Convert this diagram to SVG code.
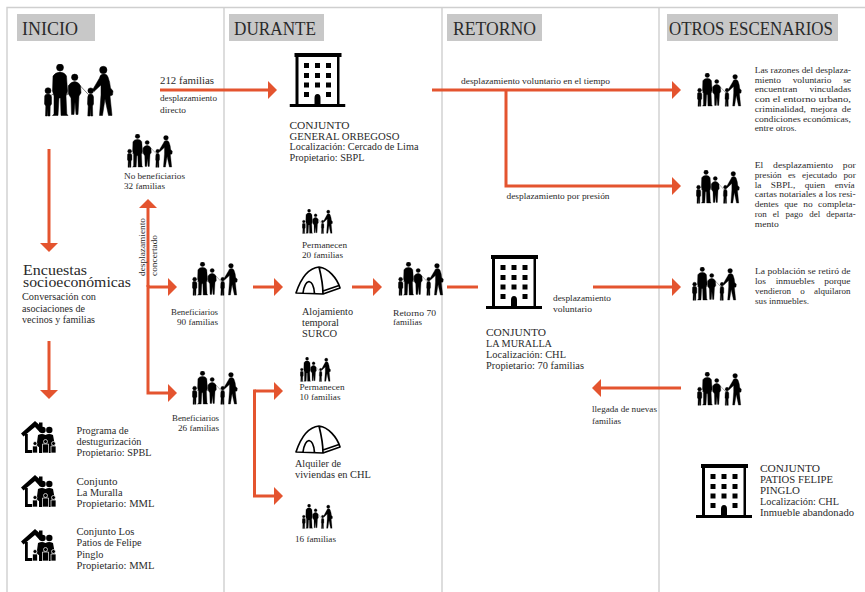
<svg xmlns="http://www.w3.org/2000/svg" width="865" height="592" viewBox="0 0 865 592">
<style>
text{font-family:"Liberation Serif","Times New Roman",serif;fill:#2a2a2a}
.h{font-size:19px}
.l{font-size:11.2px}
.m{font-size:10.4px}
.s{font-size:9.2px}
.x{font-size:9px}
.e{font-size:15px}
.panel{fill:none;stroke:#cfcfcf;stroke-width:1.4}
.hd{fill:#c8c8c8}
.c{fill:none;stroke:#e4542f;stroke-width:3;stroke-linejoin:miter}
.a{marker-end:url(#head)}
.fam path,.fam circle{stroke:#000;stroke-width:.5;stroke-linejoin:round}
</style>
<defs>
<marker id="head" markerUnits="userSpaceOnUse" viewBox="0 0 9 18" refX="0" refY="9" markerWidth="9" markerHeight="18" orient="auto"><path d="M0,0L9,9L0,18Z" fill="#e4542f"/></marker>
<symbol id="family" viewBox="0 0 70 53" preserveAspectRatio="none">
<g class="fam">
<circle cx="16" cy="3.500" r="3.500"/><circle cx="30.700" cy="13.300" r="3.200"/><circle cx="4" cy="26.700" r="3"/><circle cx="46.700" cy="26.700" r="2.800"/><circle cx="59.300" cy="6" r="3.700"/>
<path d="M9,12Q11,8.500 16,8Q21,8.500 22.500,12L23.500,27L22,32L22.800,50L24,51.500L17,51.500L16.500,34L15,34L14,51.500L8.500,51.500L10,50L10,32L8.500,27Z"/>
<path d="M24.500,22Q26,18 30.700,17.500Q35,18 36.500,22L37,29L35,32L34,50.500L32,50.500L31,38L30,50.500L27.500,50.500L27,34L24.500,30Z"/>
<path d="M.7,32Q1,30 4,30Q7,30 7.500,33L7.500,40L6.200,42L6,52L3.800,52L3.500,44L3.200,52L1.500,52L1.800,42L.5,40Z"/>
<path d="M43.800,33Q44,30 46.700,30Q49,30 49.500,33L49.500,40L48.500,42L48.700,52L46.700,52L46.300,44L46,52L43.800,52L44.200,42L43.500,40Z"/>
<path d="M55.500,14Q56,10 60,10Q63,10 64,13Q66,18 66.500,24L69,27L68.500,31L66,32L68,51.500L64.500,51.500L61,35L58.500,51.500L55.500,51.500L57,31L57,21L50,27.500L48.500,26Z"/>
<path d="M35.500,21L45.300,31.500M24.500,21L23.500,31M7,31.500L10,29.500" fill="none" stroke-width="1"/>
</g>
</symbol>
<symbol id="building" viewBox="0 0 56 54" preserveAspectRatio="none">
<path d="M5,0H52V4H50V51H56V54H0V51H6V4H5ZM9,4V51H25V45Q25,41 28,41Q31,41 31,45V51H47.500V4Z" fill-rule="evenodd"/>
<path d="M14.500,10h5v5h-5zM25.500,10h5v5h-5zM36.500,10h5v5h-5zM14.500,20h5v5h-5zM25.500,20h5v5h-5zM36.500,20h5v5h-5zM14.500,29.500h5v5h-5zM25.500,29.500h5v5h-5zM36.500,29.500h5v5h-5zM14.500,39h5v5h-5zM36.500,39h5v5h-5z"/>
</symbol>
<symbol id="tent" viewBox="0 0 46 29" preserveAspectRatio="none">
<path d="M1,27C6,12 14,2 24,1C33,2 42,12 45,22L28,28L1,27ZM24,1C26,9 28,18 28,28M8,27C9,20 11,16 14,15.500C17,16 19,20 19.500,27.500M28,25L44,19.500" fill="none" stroke="#000" stroke-width="1.700" stroke-linejoin="round"/>
</symbol>
<symbol id="house" viewBox="0 0 35 32" preserveAspectRatio="none">
<path d="M0,12.500L14,0L18,3.500V1.500H21.500V8L19,11.500L14,6L2.500,15.500Z"/>
<path d="M4,13H6.800V29H14V32H4Z"/>
<circle cx="21.500" cy="9" r="3.200"/><circle cx="28.300" cy="9" r="3.200"/>
<path d="M17,14Q21,12 24.500,14Q28,12 32,14L34,25L31,26V32H18V26L15.500,25Z"/>
<g fill="#000" stroke="#fff" stroke-width=".7">
<circle cx="14" cy="22.500" r="2"/><circle cx="24.500" cy="20.500" r="2"/><circle cx="32.500" cy="22.500" r="2"/>
<path d="M11.500,25H16.500V32H11.500ZM21.500,23H27.500V32H21.500ZM30,25H35V32H30Z"/>
</g>
</symbol>
</defs>

<g id="panels">
<path class="panel" d="M7,592V7.500H865M224,7.500V592M442,7.500V592M659,7.500V592"/>
</g>

<g id="connectors">
<path class="c a" d="M160,90H268"/>
<path class="c a" d="M49,149V243"/>
<path class="c a" d="M49,341V390"/>
<path class="c a" d="M148,287V208"/>
<path class="c a" d="M148,287H168"/>
<path class="c a" d="M148,285V393H168"/>
<path class="c a" d="M253,287H274"/>
<path class="c a" d="M254.500,391H274"/>
<path class="c a" d="M254.500,389.500V496H274"/>
<path class="c a" d="M352,287H373"/>
<path class="c" d="M447,287H478"/>
<path class="c a" d="M432,90H672"/>
<path class="c a" d="M506,90V186H672"/>
<path class="c a" d="M593,287H672"/>
<path class="c a" d="M681,388H601"/>
</g>

<g id="inicio">
<rect class="hd" x="17" y="14" width="78" height="27"/>
<text class="h" x="22" y="35" textLength="56" lengthAdjust="spacingAndGlyphs">INICIO</text>
</g>
<g id="durante">
<rect class="hd" x="229" y="14" width="95" height="27"/>
<text class="h" x="234" y="35" textLength="82" lengthAdjust="spacingAndGlyphs">DURANTE</text>
</g>
<g id="retorno">
<rect class="hd" x="447" y="14" width="95" height="27"/>
<text class="h" x="453" y="35" textLength="83" lengthAdjust="spacingAndGlyphs">RETORNO</text>
</g>
<g id="otros-escenarios">
<rect class="hd" x="667" y="14" width="171" height="27"/>
<text class="h" x="669" y="35" textLength="164" lengthAdjust="spacingAndGlyphs">OTROS ESCENARIOS</text>
</g>

<g id="familias-212">
<use href="#family" x="44" y="64" width="70" height="53"/>
<text class="m" x="160" y="84" textLength="54" lengthAdjust="spacingAndGlyphs">212 familias</text>
<text class="s" x="160" y="100.500" textLength="57" lengthAdjust="spacingAndGlyphs">desplazamiento</text>
<text class="s" x="160" y="112.500" textLength="26" lengthAdjust="spacingAndGlyphs">directo</text>
</g>
<g id="encuestas">
<text class="e" x="23" y="275" textLength="64" lengthAdjust="spacingAndGlyphs">Encuestas</text>
<text class="e" x="23" y="287" textLength="108" lengthAdjust="spacingAndGlyphs">socioeconómicas</text>
<text class="m" x="22" y="300" textLength="74" lengthAdjust="spacingAndGlyphs">Conversación con</text>
<text class="m" x="22" y="312" textLength="63" lengthAdjust="spacingAndGlyphs">asociaciones de</text>
<text class="m" x="22" y="323" textLength="73" lengthAdjust="spacingAndGlyphs">vecinos y familias</text>
</g>
<g id="programa">
<use href="#house" x="21" y="421" width="35" height="32"/>
<text class="m" x="76.500" y="434" textLength="52" lengthAdjust="spacingAndGlyphs">Programa de</text>
<text class="m" x="76.500" y="445" textLength="65" lengthAdjust="spacingAndGlyphs">destugurización</text>
<text class="m" x="76.500" y="456" textLength="75" lengthAdjust="spacingAndGlyphs">Propietario: SPBL</text>
</g>
<g id="conjunto-muralla-inicio">
<use href="#house" x="21" y="475" width="35" height="32"/>
<text class="m" x="76.500" y="485" textLength="41" lengthAdjust="spacingAndGlyphs">Conjunto</text>
<text class="m" x="76.500" y="496" textLength="46" lengthAdjust="spacingAndGlyphs">La Muralla</text>
<text class="m" x="76.500" y="507" textLength="78" lengthAdjust="spacingAndGlyphs">Propietario: MML</text>
</g>
<g id="conjunto-patios-inicio">
<use href="#house" x="21" y="529" width="35" height="32"/>
<text class="m" x="76.500" y="535" textLength="58" lengthAdjust="spacingAndGlyphs">Conjunto Los</text>
<text class="m" x="76.500" y="546" textLength="65" lengthAdjust="spacingAndGlyphs">Patios de Felipe</text>
<text class="m" x="76.500" y="557.500" textLength="27" lengthAdjust="spacingAndGlyphs">Pinglo</text>
<text class="m" x="76.500" y="568.500" textLength="78" lengthAdjust="spacingAndGlyphs">Propietario: MML</text>
</g>
<g id="no-beneficiarios">
<use href="#family" x="127" y="134" width="46" height="34"/>
<text class="s" x="124" y="179" textLength="61" lengthAdjust="spacingAndGlyphs">No beneficiarios</text>
<text class="s" x="124" y="189" textLength="41" lengthAdjust="spacingAndGlyphs">32 familias</text>
</g>
<g id="desplazamiento-concertado">
<text class="s" transform="translate(145,276) rotate(-90)" textLength="58" lengthAdjust="spacingAndGlyphs">desplazamiento</text>
<text class="s" transform="translate(157,276) rotate(-90)" textLength="41" lengthAdjust="spacingAndGlyphs">concertado</text>
</g>
<g id="beneficiarios-90">
<use href="#family" x="192" y="262" width="46" height="34"/>
<text class="s" x="171" y="315" textLength="47" lengthAdjust="spacingAndGlyphs">Beneficiarios</text>
<text class="s" x="177" y="325" textLength="41" lengthAdjust="spacingAndGlyphs">90 familias</text>
</g>
<g id="beneficiarios-26">
<use href="#family" x="192" y="371" width="46" height="34"/>
<text class="s" x="172" y="421" textLength="47" lengthAdjust="spacingAndGlyphs">Beneficiarios</text>
<text class="s" x="178" y="431" textLength="41" lengthAdjust="spacingAndGlyphs">26 familias</text>
</g>

<g id="conjunto-general-orbegoso">
<use href="#building" x="289.500" y="53" width="56" height="54"/>
<text class="l" x="289.500" y="128.500" textLength="60" lengthAdjust="spacingAndGlyphs">CONJUNTO</text>
<text class="l" x="289.500" y="139.500" textLength="110" lengthAdjust="spacingAndGlyphs">GENERAL ORBEGOSO</text>
<text class="l" x="289.500" y="150" textLength="129" lengthAdjust="spacingAndGlyphs">Localización: Cercado de Lima</text>
<text class="l" x="289.500" y="161" textLength="75" lengthAdjust="spacingAndGlyphs">Propietario: SBPL</text>
</g>
<g id="permanecen-20">
<use href="#family" x="302" y="209" width="31" height="25"/>
<text class="s" x="302" y="248" textLength="45" lengthAdjust="spacingAndGlyphs">Permanecen</text>
<text class="s" x="302" y="257.500" textLength="41" lengthAdjust="spacingAndGlyphs">20 familias</text>
</g>
<g id="alojamiento">
<use href="#tent" x="295" y="266" width="46" height="29"/>
<text class="m" x="302" y="315" textLength="51" lengthAdjust="spacingAndGlyphs">Alojamiento</text>
<text class="m" x="302" y="326" textLength="37" lengthAdjust="spacingAndGlyphs">temporal</text>
<text class="m" x="302" y="337" textLength="35" lengthAdjust="spacingAndGlyphs">SURCO</text>
</g>
<g id="retorno-70">
<use href="#family" x="398" y="262" width="46" height="34"/>
<text class="s" x="393" y="315.500" textLength="43" lengthAdjust="spacingAndGlyphs">Retorno 70</text>
<text class="s" x="393" y="325" textLength="29" lengthAdjust="spacingAndGlyphs">familias</text>
</g>
<g id="permanecen-10">
<use href="#family" x="300" y="357" width="31" height="25"/>
<text class="s" x="299.500" y="390" textLength="45" lengthAdjust="spacingAndGlyphs">Permanecen</text>
<text class="s" x="299.500" y="400" textLength="41" lengthAdjust="spacingAndGlyphs">10 familias</text>
</g>
<g id="alquiler">
<use href="#tent" x="295" y="425" width="46" height="29"/>
<text class="m" x="295" y="467" textLength="46" lengthAdjust="spacingAndGlyphs">Alquiler de</text>
<text class="m" x="295" y="478" textLength="76" lengthAdjust="spacingAndGlyphs">viviendas en CHL</text>
</g>
<g id="familias-16">
<use href="#family" x="302" y="504" width="31" height="25"/>
<text class="s" x="295" y="541.500" textLength="41" lengthAdjust="spacingAndGlyphs">16 familias</text>
</g>

<g id="labels-retorno">
<text class="s" x="461" y="83.500" textLength="149" lengthAdjust="spacingAndGlyphs">desplazamiento voluntario en el tiempo</text>
<text class="s" x="506.500" y="199" textLength="103" lengthAdjust="spacingAndGlyphs">desplazamiento por presión</text>
<text class="s" x="553" y="300.500" textLength="58" lengthAdjust="spacingAndGlyphs">desplazamiento</text>
<text class="s" x="553" y="312" textLength="39" lengthAdjust="spacingAndGlyphs">voluntario</text>
<text class="s" x="592" y="412" textLength="65" lengthAdjust="spacingAndGlyphs">llegada de nuevas</text>
<text class="s" x="592" y="423.500" textLength="29" lengthAdjust="spacingAndGlyphs">familias</text>
</g>
<g id="conjunto-la-muralla">
<use href="#building" x="486" y="255" width="56" height="54"/>
<text class="l" x="486" y="336" textLength="60" lengthAdjust="spacingAndGlyphs">CONJUNTO</text>
<text class="l" x="486" y="347" textLength="66" lengthAdjust="spacingAndGlyphs">LA MURALLA</text>
<text class="l" x="486" y="358" textLength="80" lengthAdjust="spacingAndGlyphs">Localización: CHL</text>
<text class="l" x="486" y="369" textLength="98" lengthAdjust="spacingAndGlyphs">Propietario: 70 familias</text>
</g>

<g id="razones">
<use href="#family" x="697" y="73" width="45" height="34"/>
<text class="x" x="754.700" y="72.500" textLength="96.300" lengthAdjust="spacingAndGlyphs">Las razones del desplaza-</text>
<text class="x" x="754.700" y="82.500" textLength="96.300" lengthAdjust="spacingAndGlyphs" word-spacing="9">miento voluntario se</text>
<text class="x" x="754.700" y="92" textLength="96.300" lengthAdjust="spacingAndGlyphs" word-spacing="9">encuentran vinculadas</text>
<text class="x" x="754.700" y="102" textLength="96.300" lengthAdjust="spacingAndGlyphs">con el entorno urbano,</text>
<text class="x" x="754.700" y="112" textLength="96.300" lengthAdjust="spacingAndGlyphs" word-spacing="2">criminalidad, mejora de</text>
<text class="x" x="754.700" y="121.500" textLength="96.300" lengthAdjust="spacingAndGlyphs">condiciones económicas,</text>
<text class="x" x="754.700" y="131" textLength="42" lengthAdjust="spacingAndGlyphs">entre otros.</text>
</g>
<g id="presion">
<use href="#family" x="696" y="170" width="44" height="34"/>
<text class="x" x="754.700" y="168" textLength="101" lengthAdjust="spacingAndGlyphs" word-spacing="7">El desplazamiento por</text>
<text class="x" x="754.700" y="178" textLength="101" lengthAdjust="spacingAndGlyphs" word-spacing="4">presión es ejecutado por</text>
<text class="x" x="754.700" y="187.500" textLength="100" lengthAdjust="spacingAndGlyphs" word-spacing="7">la SBPL, quien envía</text>
<text class="x" x="754.700" y="197" textLength="101" lengthAdjust="spacingAndGlyphs">cartas notariales a los resi-</text>
<text class="x" x="754.700" y="207" textLength="101" lengthAdjust="spacingAndGlyphs" word-spacing="3">dentes que no completa-</text>
<text class="x" x="754.700" y="217" textLength="101" lengthAdjust="spacingAndGlyphs" word-spacing="4">ron el pago del departa-</text>
<text class="x" x="754.700" y="227" textLength="24" lengthAdjust="spacingAndGlyphs">mento</text>
</g>
<g id="retiro">
<use href="#family" x="692" y="267" width="45" height="34"/>
<text class="x" x="755" y="274" textLength="95.500" lengthAdjust="spacingAndGlyphs">La población se retiró de</text>
<text class="x" x="755" y="284" textLength="95.500" lengthAdjust="spacingAndGlyphs" word-spacing="7">los inmuebles porque</text>
<text class="x" x="755" y="293.700" textLength="95.500" lengthAdjust="spacingAndGlyphs" word-spacing="7">vendieron o alquilaron</text>
<text class="x" x="755" y="303.500" textLength="54" lengthAdjust="spacingAndGlyphs">sus inmuebles.</text>
</g>
<g id="nuevas-familias">
<use href="#family" x="697" y="372" width="45" height="34"/>
</g>
<g id="conjunto-patios">
<use href="#building" x="696" y="464" width="56" height="54"/>
<text class="l" x="760" y="471.700" textLength="60" lengthAdjust="spacingAndGlyphs">CONJUNTO</text>
<text class="l" x="760" y="482.700" textLength="73" lengthAdjust="spacingAndGlyphs">PATIOS FELIPE</text>
<text class="l" x="760" y="493.700" textLength="40" lengthAdjust="spacingAndGlyphs">PINGLO</text>
<text class="l" x="760" y="504.700" textLength="79" lengthAdjust="spacingAndGlyphs">Localización: CHL</text>
<text class="l" x="760" y="515.700" textLength="94" lengthAdjust="spacingAndGlyphs">Inmueble abandonado</text>
</g>
</svg>
